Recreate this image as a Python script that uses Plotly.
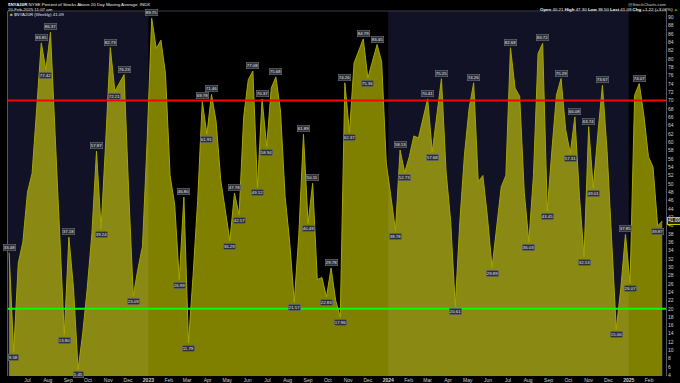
import plotly.graph_objects as go
import pandas as pd

# ---- data (weekly $NYA20R, percent of NYSE stocks above 20-day MA) ----
start_date = "2022-06-03"
values = [
    33.48, 9.58, 31.0, 36.0, 48.0, 52.5, 68.0, 83.85, 77.42, 86.37,
    62.0, 38.5, 13.80, 37.18, 25.0, 5.45, 14.0, 25.0, 38.0, 57.87,
    39.24, 60.0, 82.73, 72.21, 74.3, 76.23, 48.0, 23.09, 29.5, 35.0,
    60.0, 89.75, 82.5, 84.5, 76.5, 52.0, 45.0, 26.99, 46.80, 11.79,
    28.0, 46.0, 69.78, 61.91, 71.46, 65.0, 51.0, 44.0, 36.29, 47.78,
    42.57, 66.0, 75.0, 77.08, 49.12, 70.37, 58.94, 73.0, 75.68, 67.5,
    47.0, 36.0, 21.57, 38.0, 61.89, 40.49, 50.11, 27.0, 27.5, 22.83,
    29.78, 22.0, 17.96, 74.26, 62.37, 79.0, 81.7, 84.79, 75.36, 79.5,
    83.45, 79.3, 55.0, 47.0, 38.78, 58.13, 52.73, 56.5, 61.5, 61.0,
    66.0, 70.41, 57.68, 66.0, 75.25, 53.0, 41.0, 20.61, 41.0, 57.0,
    68.0, 74.26, 50.5, 52.0, 42.0, 29.89, 39.0, 49.3, 52.0, 82.68,
    73.0, 71.0, 48.0, 36.03, 52.0, 81.3, 83.72, 43.45, 58.0, 71.3,
    75.29, 63.0, 57.31, 66.08, 47.0, 32.53, 63.74, 49.01, 62.0, 73.67,
    58.0, 35.0, 15.06, 25.0, 37.85, 26.07, 71.3, 74.07, 66.5, 56.5,
    54.0, 39.87, 41.09,
]
# indices of the peaks/troughs that carry a value label
labeled_idx = [0, 1, 7, 8, 9, 12, 13, 15, 19, 20, 22, 23, 25, 27, 31, 37, 38, 39,
               42, 43, 44, 48, 49, 50, 53, 54, 55, 56, 58, 62, 64, 65, 66, 69, 70,
               72, 73, 74, 77, 78, 80, 84, 85, 86, 91, 92, 94, 97, 101, 105, 109,
               113, 116, 117, 120, 122, 123, 125, 126, 127, 129, 132, 134, 135,
               137, 141]
month_ticks = pd.date_range("2022-07-01", "2025-02-01", freq="MS")
tick_text = [("<b>%d</b>" % d.year) if d.month == 1 else d.strftime("%b") for d in month_ticks]
y_ticks = list(range(4, 91, 2))
upper_level = 70
lower_level = 20

title_sym = "$NYA20R"
title_desc = "NYSE Percent of Stocks Above 20 Day Moving Average  INDX"
title_date = "20-Feb-2025 11:07 am"
ohlc = [("Open", "40.21"), ("High", "47.30"), ("Low", "38.50"), ("Last", "41.09"), ("Chg", "+1.22 (+3.06%)")]

dates = pd.date_range(start_date, periods=len(values), freq="7D")
x_range = ["2022-06-01 08:00", "2025-02-26 17:00"]

FONT = "Liberation Sans, Arial, sans-serif"
fig = go.Figure()
fig.add_trace(go.Scatter(
    x=dates, y=values, mode="lines", fill="tozeroy",
    fillcolor="rgba(255,255,0,0.5)", line=dict(color="#a6a600", width=1),
    showlegend=False, hoverinfo="skip"))

shapes = [
    dict(type="rect", xref="x", yref="paper", x0=x_range[0], x1="2023-01-01", y0=0, y1=1,
         fillcolor="#121226", line=dict(width=0), layer="below"),
    dict(type="rect", xref="x", yref="paper", x0="2024-01-01", x1="2025-01-01", y0=0, y1=1,
         fillcolor="#121226", line=dict(width=0), layer="below"),
    dict(type="line", xref="paper", yref="y", x0=0, x1=1, y0=upper_level, y1=upper_level,
         line=dict(color="#ff0000", width=2)),
    dict(type="line", xref="paper", yref="y", x0=0, x1=1, y0=lower_level, y1=lower_level,
         line=dict(color="#00ff00", width=2)),
    dict(type="line", xref="paper", yref="paper", x0=0, x1=1, y0=1, y1=1,
         line=dict(color="#3a3a44", width=1)),
]

ann = []
for i in labeled_idx:
    v = values[i]
    prev_v = values[i - 1] if i > 0 else -1
    next_v = values[i + 1] if i < len(values) - 1 else -1
    peak = v >= prev_v and v >= next_v
    ann.append(dict(x=dates[i], y=v, xref="x", yref="y", text="%.2f" % v, showarrow=False,
                    yanchor="bottom" if peak else "top", yshift=2 if peak else -2,
                    font=dict(size=4.3, color="#e6e6e6", family=FONT),
                    bgcolor="#2c3038", bordercolor="#7a7a82", borderwidth=0.5, borderpad=0.3))

small = dict(size=4.4, family=FONT)
ann.append(dict(xref="paper", yref="paper", x=0, y=1, xanchor="left", yanchor="middle",
                xshift=-1, yshift=6.9, showarrow=False, borderpad=0,
                text="<b>%s</b> %s" % (title_sym, title_desc),
                font=dict(color="#f0f0f0", **small)))
ann.append(dict(xref="paper", yref="paper", x=0, y=1, xanchor="left", yanchor="middle",
                xshift=-1, yshift=1.2, showarrow=False, borderpad=0, text=title_date,
                font=dict(color="#e0e0e0", **small)))
ann.append(dict(xref="paper", yref="paper", x=0, y=1, xanchor="left", yanchor="middle",
                xshift=1, yshift=-3.8, showarrow=False, borderpad=0,
                text="<span style='color:#b8b800'>■</span> %s (Weekly) %s" % (title_sym, values[-1]),
                font=dict(color="#e0e0e0", **small)))
ann.append(dict(xref="paper", yref="paper", x=1, y=1, xanchor="right", yanchor="middle",
                xshift=1, yshift=6.9, showarrow=False, borderpad=0, text="@StockCharts.com",
                font=dict(color="#d0d0d0", **small)))
ann.append(dict(xref="paper", yref="paper", x=1, y=1, xanchor="right", yanchor="middle",
                xshift=13, yshift=1.2, showarrow=False, borderpad=0,
                text=" ".join("<b>%s</b> %s" % (k, v) for k, v in ohlc)
                     + " <span style='color:#00d000'>▲</span>",
                font=dict(color="#f0f0f0", **small)))
ann.append(dict(xref="paper", yref="y", x=1, y=values[-1], xanchor="left", yanchor="middle",
                xshift=1, showarrow=False, text="%.2f" % values[-1],
                font=dict(size=4.6, color="#ffffff", family=FONT),
                bgcolor="#26260a", bordercolor="#c8c800", borderwidth=1, borderpad=0.3))

fig.update_layout(
    width=680, height=383,
    margin=dict(l=7.5, r=14, t=10.7, b=7, pad=0),
    paper_bgcolor="#000000", plot_bgcolor="#000000",
    font=dict(family=FONT, size=5, color="#cfcfcf"),
    shapes=shapes, annotations=ann, showlegend=False,
    xaxis=dict(type="date", range=x_range, tickvals=list(month_ticks), ticktext=tick_text,
               showgrid=False, zeroline=False, showline=False, ticks="",
               tickfont=dict(size=5, color="#d0d0d0"), automargin=False, fixedrange=True),
    yaxis=dict(range=[3.85, 91.5], side="right", tickvals=y_ticks, showgrid=False,
               zeroline=False, showline=True, mirror=True, linecolor="#555560", linewidth=1,
               ticks="", tickfont=dict(size=5, color="#d0d0d0"), automargin=False,
               fixedrange=True),
)

fig.write_html("out.html")
